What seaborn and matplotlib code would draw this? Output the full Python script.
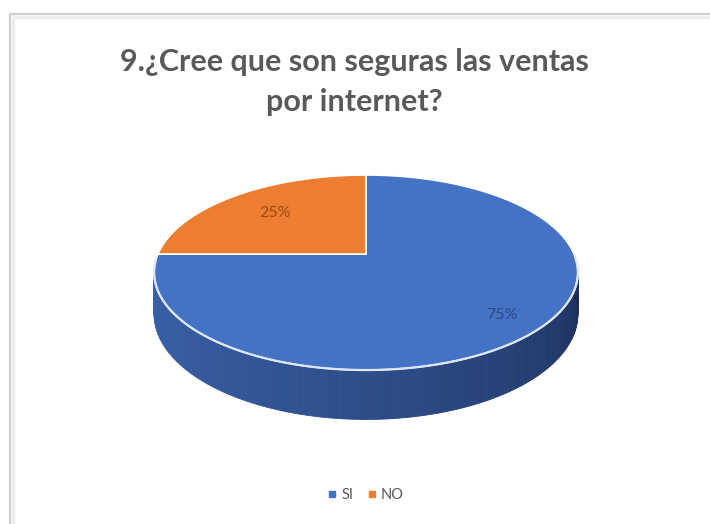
import numpy as np
import matplotlib
matplotlib.use("Agg")
import matplotlib.pyplot as plt
import seaborn as sns
from matplotlib.patches import Polygon, Rectangle
from matplotlib.lines import Line2D

# Survey answers
categories = ["SI", "NO"]
values = [75, 25]
pct_labels = ["75%", "25%"]
title = "9.¿Cree que son seguras las ventas\npor internet?"

sns.set_theme(style="white")
plt.rcParams["font.family"] = ["Lato", "DejaVu Sans"]

top_colors = sns.color_palette(["#4472C4", "#ED7D31"])
label_colors = ["#2C4A85", "#9A4A16"]
label_radius = [0.80, 0.70]

W, H = 710, 524
fig = plt.figure(figsize=(W / 100, H / 100), dpi=100)
ax = fig.add_axes([0, 0, 1, 1])
ax.set_xlim(0, W)
ax.set_ylim(H, 0)
ax.axis("off")

# chart frame (runs past the right/bottom edge)
ax.add_patch(Rectangle((10, 14), W, H, fill=False, ec="#D0D0D0", lw=1.6, zorder=0))
ax.add_patch(Rectangle((12.5, 16.5), W, H, fill=False, ec="#EEEEEE", lw=2.5, zorder=0))

# 3D pie projection
cx, cy = 366, 254
R, Ry, k, depth = 208, 94, 0.19, 40


def proj(theta, dz=0.0):
    s = 1.0 / (1.0 + k * np.sin(theta))
    x = cx + R * np.cos(theta) * s
    y = cy - Ry * np.sin(theta) * s + dz * s
    return x, y


# wedge angles: start at 12 o'clock, go clockwise
total = float(sum(values))
starts, ends = [], []
a = np.pi / 2
for v in values:
    sweep = 2 * np.pi * v / total
    starts.append(a)
    ends.append(a - sweep)
    a -= sweep


def slice_at(theta):
    for j in range(len(values)):
        for m in (theta, theta - 2 * np.pi, theta + 2 * np.pi):
            if ends[j] <= m <= starts[j]:
                return j
    return 0


# side wall (visible front half), shaded by angle
side_light = np.array(matplotlib.colors.to_rgb("#3A63AC"))
side_dark = np.array(matplotlib.colors.to_rgb("#1A2C55"))
orange_side = np.array(matplotlib.colors.to_rgb("#B35A1F"))
n = 240
th = np.linspace(np.pi, 2 * np.pi, n + 1)
for i in range(n):
    t0, t1 = th[i], th[i + 1]
    mid = 0.5 * (t0 + t1)
    f = (mid - np.pi) / np.pi
    col = side_light * (1 - f ** 1.3) + side_dark * f ** 1.3
    if slice_at(mid) == 1:
        col = orange_side
    x0, y0 = proj(t0)
    x1, y1 = proj(t1)
    x2, y2 = proj(t1, depth)
    x3, y3 = proj(t0, depth)
    ax.add_patch(Polygon([(x0, y0), (x1, y1), (x2, y2), (x3, y3)], closed=True,
                         fc=col, ec=col, lw=0.6, zorder=2))

# top faces
for j, v in enumerate(values):
    t = np.linspace(starts[j], ends[j], 300)
    xs, ys = proj(t)
    pts = [(cx, cy)] + list(zip(xs, ys))
    ax.add_patch(Polygon(pts, closed=True, fc=top_colors[j], ec="white",
                         lw=1.2, joinstyle="miter", zorder=3))

# highlight on front rim
t = np.linspace(np.pi * 1.02, 2 * np.pi * 0.995, 300)
xs, ys = proj(t)
ax.plot(xs, ys, color="#DCE6F5", lw=1.6, zorder=4, solid_capstyle="round")

# percentage labels
for j in range(len(values)):
    mid = 0.5 * (starts[j] + ends[j])
    rr = label_radius[j]
    s = 1.0 / (1.0 + k * np.sin(mid))
    lx = cx + R * rr * np.cos(mid) * s
    ly = cy - Ry * rr * np.sin(mid) * s
    ax.text(lx, ly, pct_labels[j], color=label_colors[j], fontsize=11.5,
            ha="center", va="center", zorder=5)

# title
ax.text(354, 82, title, ha="center", va="center", fontsize=22,
        fontweight="bold", color="#595959", linespacing=1.5)

# legend
handles = [Line2D([0], [0], marker="s", ls="", markersize=5,
                  markerfacecolor=top_colors[j], markeredgecolor=top_colors[j])
           for j in range(len(categories))]
leg = ax.legend(handles, categories, loc="center", bbox_to_anchor=(366 / W, 1 - 495 / H),
                ncol=2, frameon=False, fontsize=10.5, handlelength=0.6,
                handletextpad=0.3, columnspacing=1.0, labelcolor="#595959")

fig.savefig("out.png", dpi=100, facecolor="white")
